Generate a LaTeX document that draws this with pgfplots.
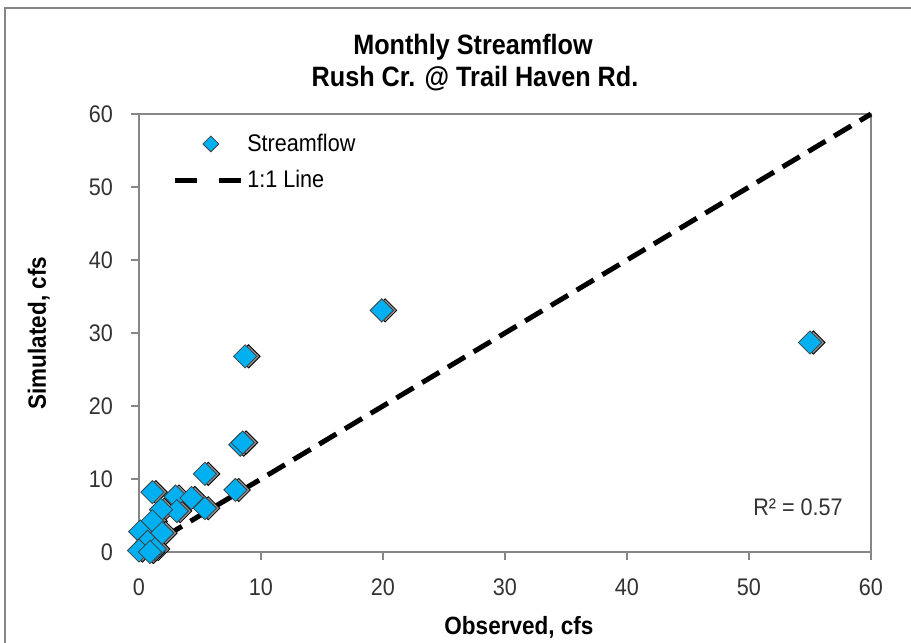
\documentclass[border=0pt]{standalone}
\usepackage{pgfplots}
\pgfplotsset{compat=1.18}
\usepackage{fontspec}
\setmainfont{Liberation Sans}[FakeStretch=0.9]
\definecolor{flow}{RGB}{0,176,240}
\definecolor{axgray}{RGB}{134,134,134}
\pgfplotsset{
  diamond legend/.style={legend image code/.code={
    \path[draw=none] (0pt,0pt) -- (33pt,0pt);
    \draw[mark size=2.8pt, ##1] plot coordinates {(18pt,0pt)};}},
  dash legend/.style={legend image code/.code={
    \draw[##1, dash pattern=on 11pt off 11pt] (0pt,0pt) -- (33pt,0pt);}},
}

\begin{document}
\begin{tikzpicture}[x=0.5pt,y=0.5pt]
\useasboundingbox (0,0) rectangle (911,643);
\draw[axgray, line width=0.8pt] (5,-20) -- (5,635) -- (930,635);
\begin{axis}[
  at={(69.5pt,45.5pt)}, anchor=south west,
  width=366pt, height=219pt, scale only axis,
  xmin=0, xmax=60, ymin=0, ymax=60,
  xtick={0,10,...,60}, ytick={0,10,...,60},
  axis line style={axgray, line width=0.8pt},
  tick style={axgray, line width=0.8pt},
  tick align=outside, major tick length=4pt,
  xtick pos=bottom, ytick pos=left,
  tick label style={font=\fontsize{12}{14}\selectfont, text=black!80},
  /pgf/number format/assume math mode=true,
  xticklabel shift=6pt, yticklabel shift=5.5pt,
  xlabel={Observed, cfs}, ylabel={Simulated, cfs},
  label style={font=\fontsize{12.5}{15}\selectfont\bfseries},
  xlabel style={at={(axis description cs:0.519,-0.171)}, anchor=center},
  ylabel style={at={(axis description cs:-0.137,0.5)}, anchor=center},
  clip=false,
  legend style={at={(axis description cs:0.045,0.965)}, anchor=north west,
    draw=none, fill=none, inner sep=0pt, row sep=4pt,
    font=\fontsize{12}{14}\selectfont},
  legend cell align=left,
]
% marker shadow
\addplot[only marks, mark=square*, mark size=4.1pt, forget plot,
  mark options={rotate=45, fill=black!45, draw=none, xshift=1.2pt, yshift=-1.2pt}]
  table {
x y
55.0 28.7
19.9 33.1
8.7 26.8
8.3 14.7
8.5 15.0
5.4 10.7
7.9 8.5
1.1 8.2
3.0 7.6
4.3 7.4
5.4 6.0
3.1 5.6
1.8 5.8
1.1 4.2
1.9 2.6
0.1 2.8
0.7 1.4
0.0 0.2
1.3 0.4
0.9 0.0
};
\addplot[only marks, mark=square*, mark size=4.1pt, diamond legend,
  mark options={rotate=45, fill=flow, draw=black!75, line width=0.4pt}]
  table {
x y
55.0 28.7
19.9 33.1
8.7 26.8
8.3 14.7
8.5 15.0
5.4 10.7
7.9 8.5
1.1 8.2
3.0 7.6
4.3 7.4
5.4 6.0
3.1 5.6
1.8 5.8
1.1 4.2
1.9 2.6
0.1 2.8
0.7 1.4
0.0 0.2
1.3 0.4
0.9 0.0
};
\addlegendentry{Streamflow}
\addplot[black, line width=2.5pt, dash pattern=on 10pt off 5pt, dash legend]
  coordinates {(0,0) (60,60)};
\addlegendentry{1:1 Line}
\end{axis}
\node[font=\fontsize{14}{16}\selectfont\bfseries, anchor=base] at (473,588) {Monthly Streamflow};
\node[font=\fontsize{14}{16}\selectfont\bfseries, anchor=base] at (475,556) {Rush Cr. @ Trail Haven Rd.};
\node[font=\fontsize{12}{14}\selectfont, text=black!80] at (798,136) {R² = 0.57};
\end{tikzpicture}
\end{document}
